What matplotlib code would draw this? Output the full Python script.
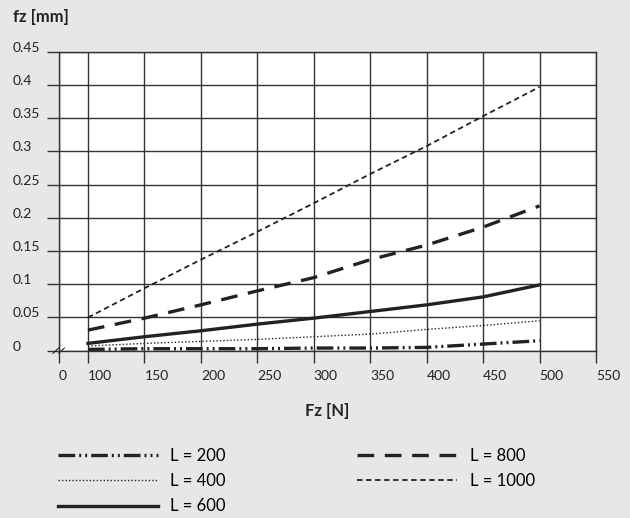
import matplotlib
matplotlib.use("Agg")
import matplotlib.pyplot as plt

# Datos
fuerza = [100, 150, 200, 250, 300, 350, 400, 450, 500]
fz_200 = [0.002, 0.003, 0.003, 0.003, 0.004, 0.004, 0.005, 0.010, 0.015]
fz_400 = [0.007, 0.011, 0.014, 0.017, 0.021, 0.025, 0.032, 0.038, 0.045]
fz_600 = [0.011, 0.021, 0.030, 0.040, 0.049, 0.059, 0.069, 0.081, 0.099]
fz_800 = [0.031, 0.049, 0.069, 0.090, 0.110, 0.137, 0.159, 0.186, 0.218]
fz_1000 = [0.050, 0.094, 0.137, 0.179, 0.222, 0.266, 0.308, 0.353, 0.397]

x_ticks = [100, 150, 200, 250, 300, 350, 400, 450, 500, 550]
y_ticks = [0, 0.05, 0.1, 0.15, 0.2, 0.25, 0.3, 0.35, 0.4, 0.45]
y_labels = ['0', '0.05', '0.1', '0.15', '0.2', '0.25', '0.3', '0.35', '0.4', '0.45']

# eje x cortado: el "0" se coloca a la izquierda de 100
x_cero = 74.3

plt.rcParams['font.family'] = ['Lato', 'DejaVu Sans']

bg = '#e6e7e9'
ink = '#222222'
grid_c = '#333333'

fig = plt.figure(figsize=(6.3, 5.18), dpi=100, facecolor=bg)
ax = fig.add_axes([59 / 630, 1 - 350.7 / 518, 537 / 630, 299 / 518])
ax.set_facecolor('white')

l200, = ax.plot(fuerza, fz_200, color=ink, lw=2.4, linestyle=(0, (5, 1.2, 0.6, 1.2, 0.6, 1.2)), label='L = 200')
l400, = ax.plot(fuerza, fz_400, color=ink, lw=1.0, linestyle=(0, (1, 1.5)), label='L = 400')
l600, = ax.plot(fuerza, fz_600, color=ink, lw=2.4, linestyle='-', label='L = 600')
l800, = ax.plot(fuerza, fz_800, color=ink, lw=2.4, linestyle=(0, (5, 3.2)), label='L = 800')
l1000, = ax.plot(fuerza, fz_1000, color=ink, lw=1.3, linestyle=(0, (3, 2)), label='L = 1000')

ax.set_xlim(x_cero, 550)
ax.set_ylim(0, 0.45)
ax.set_xticks([x_cero] + x_ticks)
ax.set_xticklabels(['0'] + [str(v) for v in x_ticks])
ax.set_yticks(y_ticks)
ax.set_yticklabels(y_labels)

ax.grid(True, color=grid_c, lw=1.0)
ax.set_axisbelow(True)
for s in ax.spines.values():
    s.set_color(grid_c)
    s.set_linewidth(1.0)

ax.tick_params(axis='both', direction='out', length=8.6, width=1.0, color=grid_c,
               labelsize=10, labelcolor=ink)
ax.tick_params(axis='x', pad=5)
ax.tick_params(axis='y', pad=24.5)
for lab in ax.get_xticklabels():
    lab.set_horizontalalignment('left')
for lab in ax.get_yticklabels():
    lab.set_horizontalalignment('left')
    lab.set_verticalalignment('baseline')

# marca de corte
for dx in (0, 5):
    ax.plot([69 + dx, 74 + dx], [-0.004, 0.004], color=ink, lw=0.8, clip_on=False)

fig.text(13 / 630, 1 - 17 / 518, 'fz [mm]', fontsize=12, fontweight='bold', color=ink,
         ha='left', va='center')
fig.text(327 / 630, 1 - 411 / 518, 'Fz [N]', fontsize=12, fontweight='bold', color=ink,
         ha='center', va='center')

opts = dict(loc='upper left', frameon=False, fontsize=12, handlelength=6.0,
            handletextpad=0.75, labelspacing=0.55, borderaxespad=0, borderpad=0)
fig.legend(handles=[l200, l400, l600], bbox_to_anchor=(58 / 630, 1 - 448 / 518), **opts)
fig.legend(handles=[l800, l1000], bbox_to_anchor=(357 / 630, 1 - 448 / 518), **opts)

fig.savefig('out.png', dpi=100, facecolor=bg)
